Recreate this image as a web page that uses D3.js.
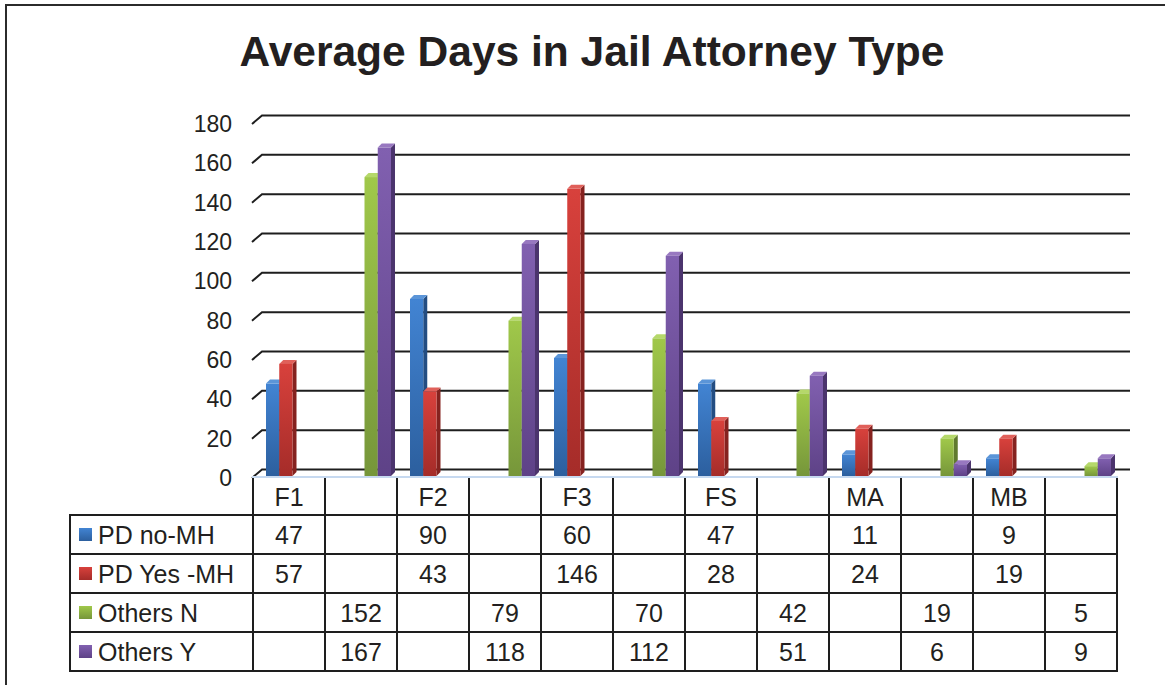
<!DOCTYPE html>
<html>
<head>
<meta charset="utf-8">
<script src="https://cdn.jsdelivr.net/npm/d3@7"></script>
<style>
  body { margin: 0; background: #fff; }
  text { font-family: "Liberation Sans", Arial, sans-serif; fill: #231f20; }
</style>
</head>
<body>
<svg width="1165" height="685"></svg>
<script>
var categories = ["F1", "", "F2", "", "F3", "", "FS", "", "MA", "", "MB", ""];
var seriesNames = ["PD no-MH", "PD Yes -MH", "Others N", "Others Y"];
var pdNoMH  = [47, null, 90, null, 60, null, 47, null, 11, null, 9, null];
var pdYesMH = [57, null, 43, null, 146, null, 28, null, 24, null, 19, null];
var othersN = [null, 152, null, 79, null, 70, null, 42, null, 19, null, 5];
var othersY = [null, 167, null, 118, null, 112, null, 51, null, 6, null, 9];
var yTicks = [0, 20, 40, 60, 80, 100, 120, 140, 160, 180];

var seriesValues = [pdNoMH, pdYesMH, othersN, othersY];
var colors = [
  {top: "#5b95d8", front0: "#4284d3", front1: "#2c5f9e", side: "#234d82"},
  {top: "#e0605a", front0: "#d8413c", front1: "#a52c29", side: "#85221f"},
  {top: "#b5d86a", front0: "#a0c84a", front1: "#76963a", side: "#607a2e"},
  {top: "#9878c0", front0: "#8160b0", front1: "#5e4287", side: "#4b346d"}
];

var svg = d3.select("svg");

// outer frame
svg.append("path")
  .attr("d", "M6,700 L6,5 L1170,5")
  .attr("fill", "none").attr("stroke", "#2b2b2b").attr("stroke-width", 2);

svg.append("text")
  .attr("x", 592).attr("y", 66)
  .attr("text-anchor", "middle")
  .attr("font-size", 43).attr("font-weight", "bold")
  .attr("textLength", 705).attr("lengthAdjust", "spacingAndGlyphs")
  .text("Average Days in Jail Attorney Type");

var defs = svg.append("defs");
colors.forEach(function(c, i) {
  var g = defs.append("linearGradient").attr("id", "grad" + i)
    .attr("x1", 0).attr("y1", 0).attr("x2", 0).attr("y2", 1);
  g.append("stop").attr("offset", "0%").attr("stop-color", c.front0);
  g.append("stop").attr("offset", "100%").attr("stop-color", c.front1);
});

var y = d3.scaleLinear().domain([0, 180]).range([478, 124]);   // front edge of floor
var yb = d3.scaleLinear().domain([0, 180]).range([476, 122]);  // bar front faces
var x0 = d3.scaleBand().domain(d3.range(categories.length)).range([253, 1117]);
var x1 = d3.scaleBand().domain(d3.range(seriesNames.length)).range([13, 66]);

var depthX = 10, depthY = -8.5, backRight = 1130;

// gridlines on back wall
svg.append("g").selectAll("path")
  .data(yTicks).enter().append("path")
  .attr("d", function(d) {
    return "M252," + y(d) + " L" + (252 + depthX) + "," + (y(d) + depthY) + " L" + backRight + "," + (y(d) + depthY);
  })
  .attr("fill", "none").attr("stroke", "#1e1e1e").attr("stroke-width", 2);

svg.append("g").selectAll("text")
  .data(yTicks).enter().append("text")
  .attr("x", 232).attr("y", function(d) { return y(d) + 8; })
  .attr("text-anchor", "end").attr("font-size", 23)
  .text(function(d) { return d; });

// floor front edge
svg.append("line")
  .attr("x1", 252).attr("x2", 1118).attr("y1", 477).attr("y2", 477)
  .attr("stroke", "#c6d9f0").attr("stroke-width", 2);

// bars
var bw = x1.bandwidth(), dx = 4, dy = 4;
var bars = [];
categories.forEach(function(c, ci) {
  seriesValues.forEach(function(vals, si) {
    if (vals[ci] != null) bars.push({ci: ci, si: si, v: vals[ci]});
  });
});
var bar = svg.append("g").selectAll("g").data(bars).enter().append("g");
bar.append("path")   // side
  .attr("d", function(d) {
    var xl = x0(d.ci) + x1(d.si) + bw, yt = yb(d.v), ybot = yb(0);
    return "M" + xl + "," + yt + " L" + (xl + dx) + "," + (yt - dy) + " L" + (xl + dx) + "," + (ybot - dy) + " L" + xl + "," + ybot + "Z";
  })
  .attr("fill", function(d) { return colors[d.si].side; });
bar.append("path")   // top
  .attr("d", function(d) {
    var xl = x0(d.ci) + x1(d.si), yt = yb(d.v);
    return "M" + xl + "," + yt + " L" + (xl + dx) + "," + (yt - dy) + " L" + (xl + bw + dx) + "," + (yt - dy) + " L" + (xl + bw) + "," + yt + "Z";
  })
  .attr("fill", function(d) { return colors[d.si].top; });
bar.append("rect")   // front
  .attr("x", function(d) { return x0(d.ci) + x1(d.si); })
  .attr("y", function(d) { return yb(d.v); })
  .attr("width", bw)
  .attr("height", function(d) { return yb(0) - yb(d.v); })
  .attr("fill", function(d) { return "url(#grad" + d.si + ")"; });

// data table
var rowTop = 515, rowH = 39, tableLeft = 70, tableRight = 1117;
var table = svg.append("g");
var rowLines = d3.range(seriesNames.length + 1).map(function(i) { return rowTop + i * rowH; });
table.selectAll(".h").data(rowLines).enter().append("line")
  .attr("x1", tableLeft - 1).attr("x2", tableRight + 1)
  .attr("y1", function(d) { return d; }).attr("y2", function(d) { return d; })
  .attr("stroke", "#1e1e1e").attr("stroke-width", 2);
var colLines = d3.range(categories.length + 1).map(function(i) { return i < categories.length ? x0(i) : tableRight; });
table.selectAll(".v").data(colLines).enter().append("line")
  .attr("x1", function(d) { return d; }).attr("x2", function(d) { return d; })
  .attr("y1", 478).attr("y2", rowTop + seriesNames.length * rowH)
  .attr("stroke", "#1e1e1e").attr("stroke-width", 2);
table.append("line")
  .attr("x1", tableLeft).attr("x2", tableLeft)
  .attr("y1", rowTop).attr("y2", rowTop + seriesNames.length * rowH)
  .attr("stroke", "#1e1e1e").attr("stroke-width", 2);

table.selectAll(".cat").data(categories).enter().append("text")
  .attr("x", function(d, i) { return x0(i) + x0.bandwidth() / 2; })
  .attr("y", 506).attr("text-anchor", "middle").attr("font-size", 25)
  .text(function(d) { return d; });

seriesNames.forEach(function(name, si) {
  var cy = rowTop + si * rowH + rowH / 2;
  table.append("rect")
    .attr("x", 79).attr("y", cy - 6.5).attr("width", 13).attr("height", 13)
    .attr("fill", "url(#grad" + si + ")");
  table.append("text")
    .attr("x", 98).attr("y", cy + 9).attr("font-size", 25)
    .text(name);
  table.selectAll(".val" + si).data(seriesValues[si]).enter().append("text")
    .attr("x", function(d, i) { return x0(i) + x0.bandwidth() / 2; })
    .attr("y", cy + 9).attr("text-anchor", "middle").attr("font-size", 25)
    .text(function(d) { return d == null ? "" : d; });
});
</script>
</body>
</html>
